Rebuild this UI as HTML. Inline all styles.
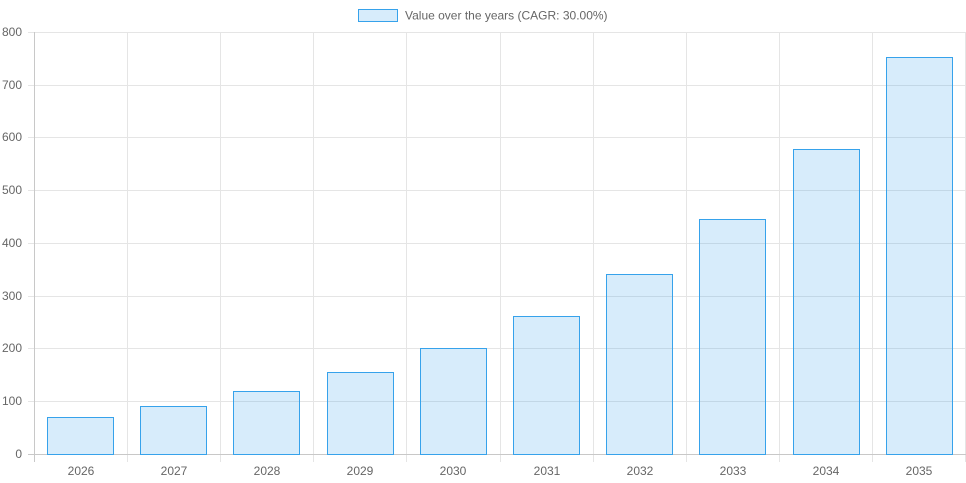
<!DOCTYPE html>
<html><head><meta charset="utf-8"><style>
html,body{margin:0;padding:0;background:#fff;}
svg{display:block;font-family:"Liberation Sans",Arial,sans-serif;}
</style></head><body>
<svg width="966" height="483" xmlns="http://www.w3.org/2000/svg">
<rect x="358.5" y="9.5" width="39" height="12" fill="rgba(54,162,235,0.2)" stroke="#36a2eb" stroke-width="1"/>
<text x="405" y="19.5" font-size="12" fill="#666">Value over the years (CAGR: 30.00%)</text>
<g stroke="#e5e5e5" stroke-width="1">
<line x1="28" y1="32.5" x2="966" y2="32.5"/>
<line x1="28" y1="85.5" x2="966" y2="85.5"/>
<line x1="28" y1="137.5" x2="966" y2="137.5"/>
<line x1="28" y1="190.5" x2="966" y2="190.5"/>
<line x1="28" y1="243.5" x2="966" y2="243.5"/>
<line x1="28" y1="296.5" x2="966" y2="296.5"/>
<line x1="28" y1="348.5" x2="966" y2="348.5"/>
<line x1="28" y1="401.5" x2="966" y2="401.5"/>
<line x1="127.5" y1="32" x2="127.5" y2="462"/>
<line x1="220.5" y1="32" x2="220.5" y2="462"/>
<line x1="313.5" y1="32" x2="313.5" y2="462"/>
<line x1="406.5" y1="32" x2="406.5" y2="462"/>
<line x1="500.5" y1="32" x2="500.5" y2="462"/>
<line x1="593.5" y1="32" x2="593.5" y2="462"/>
<line x1="686.5" y1="32" x2="686.5" y2="462"/>
<line x1="779.5" y1="32" x2="779.5" y2="462"/>
<line x1="872.5" y1="32" x2="872.5" y2="462"/>
<line x1="965.5" y1="32" x2="965.5" y2="462"/>
</g>
<g stroke="#c8c8c8" stroke-width="1">
<line x1="34.5" y1="32" x2="34.5" y2="462"/>
<line x1="28" y1="454.5" x2="966" y2="454.5"/>
</g>
<g fill="rgba(54,162,235,0.2)" stroke="#36a2eb" stroke-width="1">
<rect x="47.5" y="417.5" width="66" height="37"/>
<rect x="140.5" y="406.5" width="66" height="48"/>
<rect x="233.5" y="391.5" width="66" height="63"/>
<rect x="327.5" y="372.5" width="66" height="82"/>
<rect x="420.5" y="348.5" width="66" height="106"/>
<rect x="513.5" y="316.5" width="66" height="138"/>
<rect x="606.5" y="274.5" width="66" height="180"/>
<rect x="699.5" y="219.5" width="66" height="235"/>
<rect x="793.5" y="149.5" width="66" height="305"/>
<rect x="886.5" y="57.5" width="66" height="397"/>
</g>
<g font-size="12" fill="#666" text-anchor="end">
<text x="22" y="36">800</text>
<text x="22" y="89">700</text>
<text x="22" y="141">600</text>
<text x="22" y="194">500</text>
<text x="22" y="247">400</text>
<text x="22" y="300">300</text>
<text x="22" y="352">200</text>
<text x="22" y="405">100</text>
<text x="22" y="458">0</text>
</g>
<g font-size="12" fill="#666" text-anchor="middle">
<text x="81" y="475">2026</text>
<text x="174" y="475">2027</text>
<text x="267" y="475">2028</text>
<text x="360" y="475">2029</text>
<text x="453" y="475">2030</text>
<text x="547" y="475">2031</text>
<text x="640" y="475">2032</text>
<text x="733" y="475">2033</text>
<text x="826" y="475">2034</text>
<text x="919" y="475">2035</text>
</g>
</svg>
</body></html>
